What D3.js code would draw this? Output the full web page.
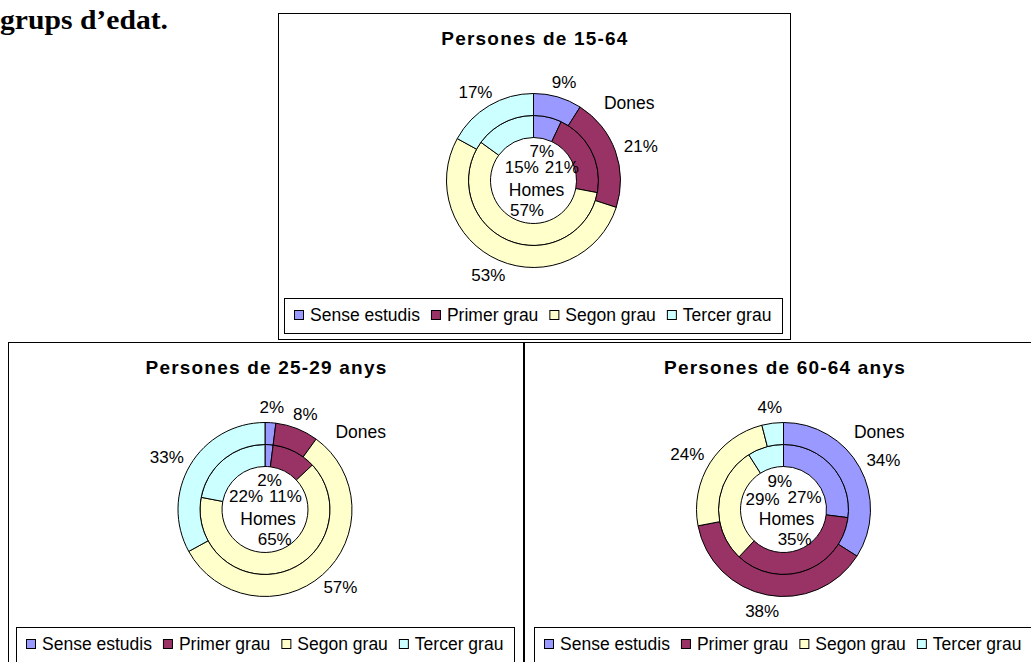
<!DOCTYPE html>
<html><head><meta charset="utf-8">
<script src="https://cdn.jsdelivr.net/npm/d3@7"></script>
<style>body{margin:0;background:#fff}svg{display:block}</style>
</head><body>
<script>
// ---- data ----
const categories = ["Sense estudis", "Primer grau", "Segon grau", "Tercer grau"];
const titles = ["Persones de 15-64", "Persones de 25-29 anys", "Persones de 60-64 anys"];
const seriesNames = ["Dones", "Homes"];
const dones1564 = [9, 21, 53, 17];
const homes1564 = [7, 21, 57, 15];
const dones2529 = [2, 8, 57, 33];
const homes2529 = [2, 11, 65, 22];
const dones6064 = [34, 38, 24, 4];
const homes6064 = [27, 35, 29, 9];
const heading = "grups d’edat.";

// ---- styles ----
const colors = ["#9999FF", "#993366", "#FFFFCC", "#CCFFFF"];
const SANS = "'Liberation Sans', Arial, sans-serif";
const W = 1031, H = 662;

const svg = d3.select("body").append("svg").attr("width", W).attr("height", H);
svg.append("rect").attr("width", W).attr("height", H).attr("fill", "#fff");

svg.append("text").text(heading)
  .attr("x", 0).attr("y", 29)
  .attr("textLength", 168).attr("lengthAdjust", "spacingAndGlyphs")
  .attr("font-family", "'Liberation Serif', 'Times New Roman', serif")
  .attr("font-weight", "bold").attr("font-size", 26.5).attr("fill", "#000");

const panels = [
  {x: 278, y: 13, w: 512, h: 326, title: titles[0], outer: dones1564, inner: homes1564},
  {x: 8, y: 342, w: 515, h: 340, title: titles[1], outer: dones2529, inner: homes2529},
  {x: 524, y: 342, w: 520, h: 340, title: titles[2], outer: dones6064, inner: homes6064}
];

const color = d3.scaleOrdinal().domain(categories).range(colors);
// ring radii: 0 = hole edge, 1 = boundary Homes/Dones, 2 = outer edge
const ring = d3.scaleLinear().domain([0, 2]).range([43, 87]);
const pie = d3.pie().sort(null).value(d => d.v);

panels.forEach(p => {
  const g = svg.append("g");
  g.append("rect").attr("x", p.x + 0.5).attr("y", p.y + 0.5)
    .attr("width", p.w).attr("height", p.h)
    .attr("fill", "#fff").attr("stroke", "#000").attr("stroke-width", 1);

  const pcx = p.x + p.w / 2;
  g.append("text").text(p.title)
    .attr("x", pcx + 1).attr("y", p.y + 32)
    .attr("text-anchor", "middle")
    .attr("font-family", SANS).attr("font-weight", "bold")
    .attr("font-size", 19).attr("letter-spacing", 1.2).attr("fill", "#000");

  const cx = pcx - 0.5, cy = p.y + 167.5;
  const dg = g.append("g").attr("transform", `translate(${cx},${cy})`);

  const rings = [
    {name: seriesNames[1], vals: p.inner, r0: ring(0), r1: ring(1)},
    {name: seriesNames[0], vals: p.outer, r0: ring(1), r1: ring(2)}
  ];
  rings.forEach(rg => {
    const arcs = pie(rg.vals.map((v, i) => ({v, c: categories[i]})));
    rg.arcs = arcs;
    const arc = d3.arc().innerRadius(rg.r0).outerRadius(rg.r1);
    dg.selectAll(null).data(arcs).enter().append("path")
      .attr("d", arc)
      .attr("fill", d => color(d.data.c))
      .attr("stroke", "#000").attr("stroke-width", 1).attr("stroke-linejoin", "round");
  });

  const lab = (txt, size) => dg.append("text").text(txt)
    .attr("text-anchor", "middle").attr("dy", "0.36em")
    .attr("font-family", SANS).attr("font-size", size).attr("fill", "#000");

  // outer ring (Dones) labels outside
  rings[1].arcs.forEach(d => {
    const a = (d.startAngle + d.endAngle) / 2;
    const t = lab(d.data.v + "%", 17);
    const w = t.node().getComputedTextLength(), h = 12, r0 = ring(2) + 10;
    t.attr("x", Math.sin(a) * (r0 + w / 2)).attr("y", -Math.cos(a) * (r0 + h / 2));
  });

  // series names
  const homesY = 9;
  const homes = lab(seriesNames[1], 17.5).attr("x", 3).attr("y", homesY);
  lab(seriesNames[0], 17.5).attr("x", ring(2) * 1.1).attr("y", -ring(2) * 0.9);

  // inner ring (Homes) labels inside the hole, with simple collision resolution
  const PAD = 6;
  const lh = q => q.fixed ? 20 : 16;
  const items = rings[0].arcs.map(d => {
    const a = (d.startAngle + d.endAngle) / 2;
    const t = lab(d.data.v + "%", 17);
    return {t, w: t.node().getComputedTextLength(),
      x: 3 + Math.sin(a) * (ring(0) - 19), y: -Math.cos(a) * (ring(0) - 13)};
  });
  items.sort((a, b) => a.y - b.y);
  const placed = [{x: 3, y: homesY, w: homes.node().getComputedTextLength(), fixed: true}];
  items.forEach(it => {
    for (let k = 0; k < 10; k++) {
      const o = placed.find(q => Math.abs(q.x - it.x) < (q.w + it.w) / 2 + PAD && Math.abs(q.y - it.y) < lh(q));
      if (!o) break;
      const px = (o.w + it.w) / 2 + PAD - Math.abs(o.x - it.x);
      const py = lh(o) - Math.abs(o.y - it.y);
      if (py <= px) {
        it.y = o.y + (it.y >= o.y ? 1 : -1) * lh(o);
      } else {
        const s = it.x >= o.x ? 1 : -1;
        if (o.fixed) it.x += s * px;
        else { it.x += s * px / 2; o.x -= s * px / 2; }
      }
    }
    placed.push(it);
  });
  items.forEach(it => it.t.attr("x", it.x).attr("y", it.y));

  // legend
  const lw = 498, lhgt = 35;
  const lx = pcx - 1 - lw / 2, ly = p.y + 284.5;
  g.append("rect").attr("x", Math.round(lx) + 0.5).attr("y", Math.round(ly) + 0.5)
    .attr("width", lw).attr("height", lhgt)
    .attr("fill", "#fff").attr("stroke", "#000").attr("stroke-width", 1);
  const lg = g.append("g");
  const lcy = ly + 17;
  let xpos = 0;
  categories.forEach(c => {
    const it = lg.append("g").attr("transform", `translate(${xpos},0)`);
    it.append("rect").attr("x", 0.5).attr("y", Math.round(lcy - 5) + 0.5)
      .attr("width", 9).attr("height", 9)
      .attr("fill", color(c)).attr("stroke", "#000").attr("stroke-width", 1);
    const t = it.append("text").text(c).attr("x", 16).attr("y", lcy).attr("dy", "0.36em")
      .attr("font-family", SANS).attr("font-size", 17.5).attr("fill", "#000");
    xpos += 16 + t.node().getComputedTextLength() + 11;
  });
  const total = xpos - 11;
  lg.attr("transform", `translate(${Math.round(pcx - 1 - total / 2)},0)`);
});
</script>
</body></html>
